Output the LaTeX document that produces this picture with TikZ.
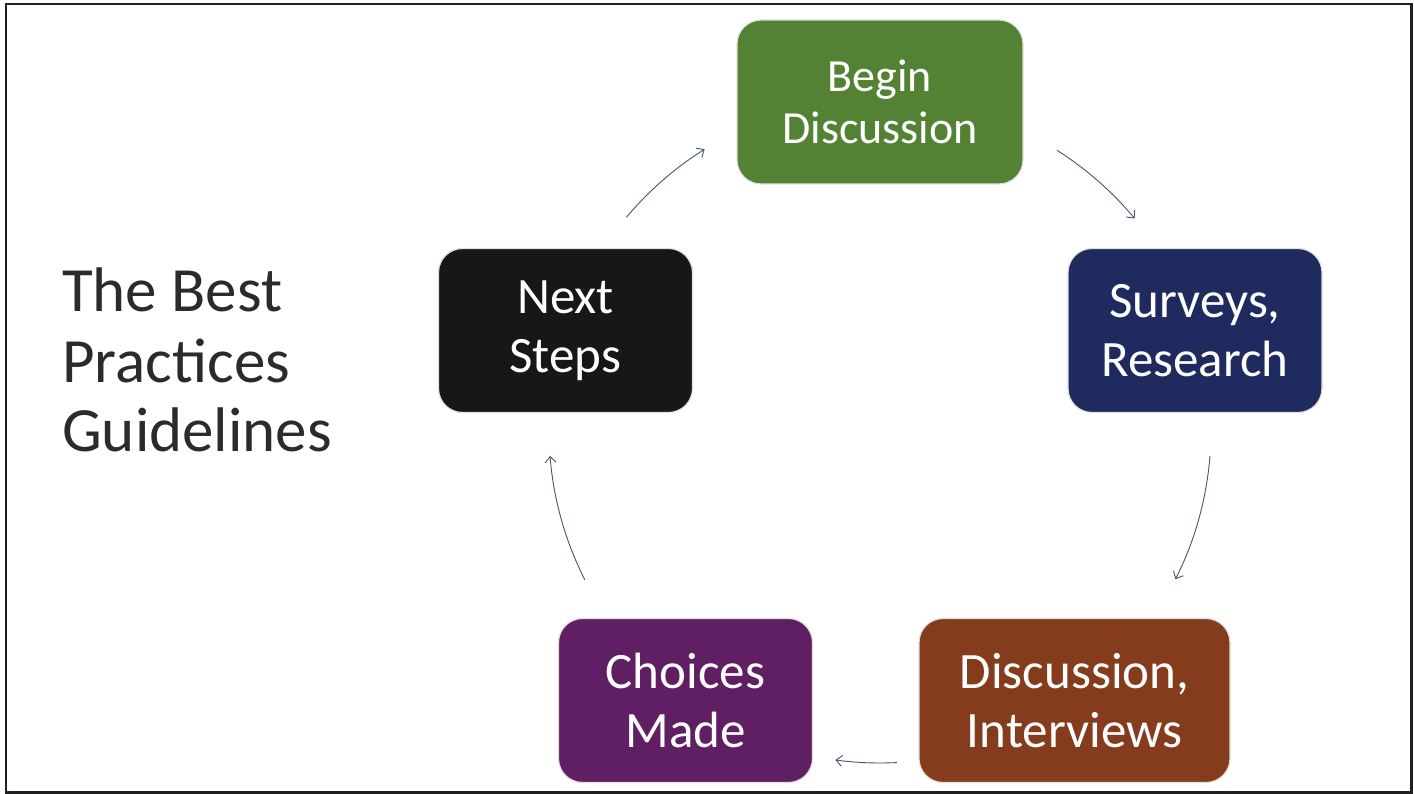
\documentclass[tikz,border=0pt]{standalone}
\usepackage{fontspec}
\setmainfont{Carlito}
\usetikzlibrary{arrows.meta}
\definecolor{cgreen}{HTML}{548235}
\definecolor{cnavy}{HTML}{1F2A5E}
\definecolor{cbrown}{HTML}{843C1C}
\definecolor{cpurple}{HTML}{5F1F62}
\definecolor{cblack}{HTML}{181717}
\definecolor{carrow}{HTML}{44546A}
\definecolor{cframe}{HTML}{231F20}
\definecolor{ctitle}{HTML}{2B2B2B}
\tikzset{
  stepbox/.style={draw=black!12, line width=1.2pt, rounded corners=24pt,
    minimum width=#1, minimum height=164pt, inner sep=0pt, align=center,
    text=white, font=\fontsize{51}{59}\selectfont},
  stepbox/.default=254pt,
  cyc/.style={draw=carrow, line width=0.9pt,
    -{Straight Barb[length=6pt,width=11pt,line width=0.9pt]}},
  ttl/.style={anchor=base west, inner sep=0pt, text=ctitle,
    font=\fontsize{63}{70}\selectfont}
}
\begin{document}
\begin{tikzpicture}[x=1pt,y=1pt]
\useasboundingbox (0,0) rectangle (1414,-794);
\draw[cframe, line width=2.5pt] (6,-4) rectangle (1411.5,-792.5);

\node[stepbox=286pt, fill=cgreen, font=\fontsize{46}{52}\selectfont] (begin) at (880,-102) {Begin\\Discussion};
\node[stepbox, fill=cnavy] (surveys) at (1195,-330.5) {Surveys,\\Research};
\node[stepbox=311pt, fill=cbrown] (disc) at (1074.5,-700.5) {Discussion,\\Interviews};
\node[stepbox, fill=cpurple] (choices) at (685.5,-700.5) {Choices\\Made};
\node[stepbox, fill=cblack] (next) at (565.5,-330.5) {Next\\Steps};

\node[ttl] (t1) at (62,-312) {The Best};
\node[ttl] (t2) at (62,-382) {Practices};
\node[ttl] (t3) at (62,-451) {Guidelines};

\coordinate (c) at (880,-430);
\draw[cyc] ([shift={(140:331)}]c) arc[start angle=140, end angle=122, radius=331];
\draw[cyc] ([shift={(57.7:331)}]c) arc[start angle=57.7, end angle=39.7, radius=331];
\draw[cyc] ([shift={(-4.5:331)}]c) arc[start angle=-4.5, end angle=-26.8, radius=331];
\draw[cyc] ([shift={(-87.1:333)}]c) arc[start angle=-87.1, end angle=-97.7, radius=333];
\draw[cyc] ([shift={(-153.1:331)}]c) arc[start angle=-153.1, end angle=-175.5, radius=331];
\end{tikzpicture}
\end{document}
